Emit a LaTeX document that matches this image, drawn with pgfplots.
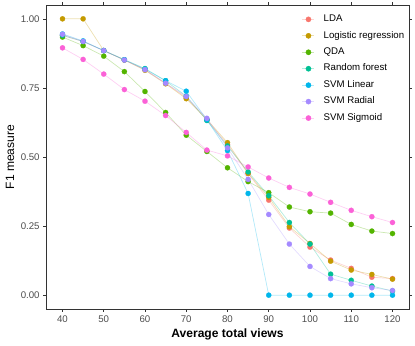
\documentclass[border=0pt]{standalone}
\usepackage{pgfplots}
\pgfplotsset{compat=1.18}
\usepackage{pgfplotstable}
\usepackage{fontspec}
\setmainfont{Liberation Sans}

\definecolor{cLDA}{HTML}{F8766D}
\definecolor{cLR}{HTML}{C49A00}
\definecolor{cQDA}{HTML}{53B400}
\definecolor{cRF}{HTML}{00C094}
\definecolor{cSVL}{HTML}{00B6EB}
\definecolor{cSVR}{HTML}{A58AFF}
\definecolor{cSVS}{HTML}{FB61D7}
\definecolor{axisgray}{HTML}{333333}
\definecolor{ticktext}{HTML}{4D4D4D}

% F1 measure by average total views
\pgfplotstableread{
x   lda   lr    qda   rf    svl   svr   svs
40  0.940 1.000 0.934 0.940 0.945 0.944 0.895
45  0.918 1.000 0.903 0.918 0.920 0.918 0.853
50  0.885 0.885 0.865 0.885 0.885 0.885 0.800
55  0.851 0.851 0.809 0.852 0.852 0.851 0.744
60  0.816 0.814 0.737 0.820 0.818 0.816 0.702
65  0.767 0.765 0.661 0.776 0.776 0.767 0.650
70  0.715 0.711 0.579 0.720 0.738 0.719 0.589
75  0.635 0.636 0.520 0.632 0.635 0.640 0.525
80  0.545 0.552 0.461 0.540 0.523 0.533 0.504
85  0.440 0.441 0.411 0.446 0.368 0.419 0.464
90  0.344 0.354 0.371 0.360 0.000 0.292 0.424
95  0.243 0.248 0.319 0.263 0.000 0.185 0.390
100 0.174 0.187 0.302 0.185 0.000 0.104 0.366
105 0.127 0.123 0.297 0.076 0.000 0.060 0.336
110 0.097 0.091 0.256 0.054 0.000 0.041 0.307
115 0.065 0.075 0.232 0.033 0.000 0.027 0.284
120 0.060 0.058 0.223 0.015 0.000 0.017 0.263
}\fone

\pgfplotsset{
  ln/.style={draw=#1, draw opacity=0.3, line width=0.7bp, mark=none, forget plot},
  pt/.style={only marks, color=#1, mark=*, mark size=2.6bp,
    mark options={draw=#1, fill=#1, line width=0.2bp},
    legend image code/.code={
      \draw[draw=#1, draw opacity=0.3, line width=0.7bp] (0bp,0bp) -- (12bp,0bp);
      \fill[#1] (6bp,0bp) circle (2.6bp);
      \path (21bp,0bp);}},
}

\begin{document}
\begin{tikzpicture}[x=1bp,y=1bp]
\path[use as bounding box] (0,0) rectangle (415,346);
\begin{axis}[
    at={(46bp,37bp)}, anchor=south west,
    scale only axis,
    width=363bp, height=304bp,
    xmin=36, xmax=124,
    ymin=-0.05, ymax=1.05,
    xtick={40,50,...,120},
    ytick={0,0.25,0.5,0.75,1},
    /pgf/number format/assume math mode=true,
    tick align=outside,
    major tick length=2.7bp,
    tick style={axisgray, line width=0.6bp},
    axis line style={axisgray, line width=0.8bp},
    ticklabel style={font=\fontsize{9.7}{11}\selectfont, text=ticktext},
    xticklabel style={inner sep=0pt, yshift=-3.5bp},
    yticklabel style={inner sep=0pt, xshift=-3.5bp,
      /pgf/number format/fixed, /pgf/number format/fixed zerofill,
      /pgf/number format/precision=2},
    xlabel={\bfseries Average total views},
    ylabel={F1 measure},
    label style={font=\fontsize{12.1}{14}\selectfont},
    xlabel style={at={(axis description cs:0.5,-0.082)}, anchor=center},
    ylabel style={at={(axis description cs:-0.099,0.5)}, anchor=center},
    legend style={draw=none, fill=none, inner sep=0pt,
      at={(axis description cs:0.705,0.969)}, anchor=north west,
      font=\fontsize{9.7}{11}\selectfont, row sep=6.95bp,
      nodes={inner sep=0pt, text height=7bp, text depth=2.5bp}},
    legend cell align=left,
]
\addplot[ln=cLDA] table[x=x, y=lda] {\fone};
\addplot[ln=cLR]  table[x=x, y=lr]  {\fone};
\addplot[ln=cQDA] table[x=x, y=qda] {\fone};
\addplot[ln=cRF]  table[x=x, y=rf]  {\fone};
\addplot[ln=cSVL] table[x=x, y=svl] {\fone};
\addplot[ln=cSVR] table[x=x, y=svr] {\fone};
\addplot[ln=cSVS] table[x=x, y=svs] {\fone};

\addplot[pt=cLDA] table[x=x, y=lda] {\fone};
\addlegendentry{LDA}
\addplot[pt=cLR]  table[x=x, y=lr]  {\fone};
\addlegendentry{Logistic regression}
\addplot[pt=cQDA] table[x=x, y=qda] {\fone};
\addlegendentry{QDA}
\addplot[pt=cRF]  table[x=x, y=rf]  {\fone};
\addlegendentry{Random forest}
\addplot[pt=cSVL] table[x=x, y=svl] {\fone};
\addlegendentry{SVM Linear}
\addplot[pt=cSVR] table[x=x, y=svr] {\fone};
\addlegendentry{SVM Radial}
\addplot[pt=cSVS] table[x=x, y=svs] {\fone};
\addlegendentry{SVM Sigmoid}
\end{axis}
\end{tikzpicture}
\end{document}
